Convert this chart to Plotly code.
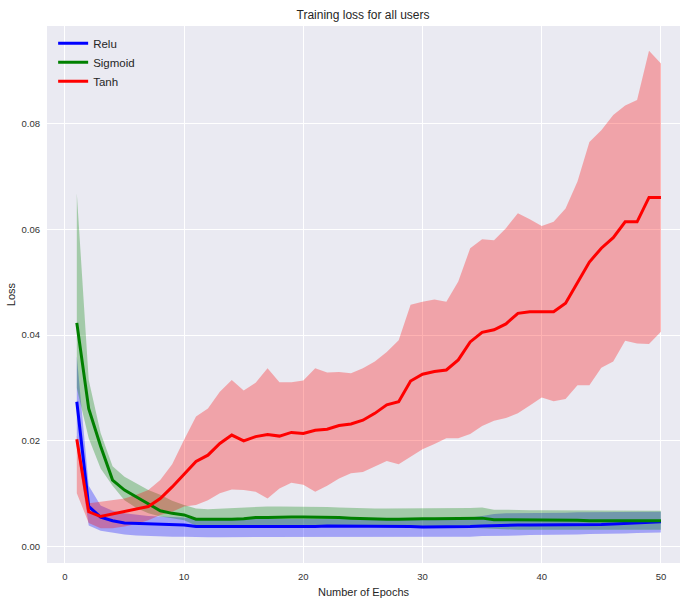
import plotly.graph_objects as go

epochs = list(range(1, 51))

relu_mean = [0.0274, 0.0076, 0.0056, 0.0049, 0.0045, 0.0044, 0.0043, 0.0042, 0.0042, 0.0041,
             0.0038, 0.0038, 0.0037, 0.0038, 0.0038, 0.0038, 0.0038, 0.0038, 0.0038, 0.0038,
             0.0038, 0.0039, 0.0039, 0.0039, 0.0039, 0.0039, 0.0039, 0.0038, 0.0038, 0.0037,
             0.0037, 0.0037, 0.0037, 0.0038, 0.0039, 0.0040, 0.0040, 0.0041, 0.0041, 0.0041,
             0.0041, 0.0041, 0.0041, 0.0041, 0.0042, 0.0043, 0.0044, 0.0045, 0.0046, 0.0047]
relu_upper = [0.0360, 0.0115, 0.0078, 0.0068, 0.0063, 0.0060, 0.0058, 0.0057, 0.0056, 0.0055,
              0.0052, 0.0052, 0.0052, 0.0052, 0.0052, 0.0052, 0.0052, 0.0052, 0.0052, 0.0052,
              0.0052, 0.0053, 0.0053, 0.0053, 0.0053, 0.0053, 0.0053, 0.0052, 0.0052, 0.0052,
              0.0053, 0.0054, 0.0054, 0.0055, 0.0058, 0.0062, 0.0063, 0.0063, 0.0064, 0.0064,
              0.0064, 0.0064, 0.0065, 0.0065, 0.0065, 0.0065, 0.0065, 0.0066, 0.0066, 0.0066]
relu_lower = [0.0190, 0.0040, 0.0030, 0.0026, 0.0023, 0.0021, 0.0020, 0.0019, 0.0019, 0.0019,
              0.0018, 0.0018, 0.0018, 0.0018, 0.0018, 0.0018, 0.0018, 0.0018, 0.0018, 0.0018,
              0.0018, 0.0018, 0.0019, 0.0019, 0.0019, 0.0019, 0.0019, 0.0018, 0.0018, 0.0018,
              0.0018, 0.0019, 0.0019, 0.0019, 0.0020, 0.0020, 0.0021, 0.0021, 0.0022, 0.0022,
              0.0023, 0.0023, 0.0023, 0.0024, 0.0024, 0.0025, 0.0025, 0.0026, 0.0026, 0.0027]

sigmoid_mean = [0.0423, 0.0261, 0.0190, 0.0126, 0.0107, 0.0094, 0.0081, 0.0068, 0.0063, 0.0060,
                0.0052, 0.0052, 0.0051, 0.0052, 0.0053, 0.0055, 0.0055, 0.0056, 0.0056, 0.0056,
                0.0056, 0.0055, 0.0055, 0.0054, 0.0053, 0.0052, 0.0052, 0.0052, 0.0053, 0.0053,
                0.0053, 0.0053, 0.0053, 0.0053, 0.0054, 0.0051, 0.0051, 0.0051, 0.0051, 0.0051,
                0.0051, 0.0050, 0.0050, 0.0049, 0.0049, 0.0048, 0.0048, 0.0048, 0.0048, 0.0049]
sigmoid_upper = [0.0668, 0.0315, 0.0215, 0.0152, 0.0132, 0.0120, 0.0107, 0.0098, 0.0087, 0.0079,
                 0.0072, 0.0071, 0.0072, 0.0073, 0.0075, 0.0076, 0.0076, 0.0076, 0.0076, 0.0076,
                 0.0075, 0.0075, 0.0074, 0.0073, 0.0072, 0.0072, 0.0072, 0.0072, 0.0073, 0.0073,
                 0.0073, 0.0073, 0.0073, 0.0073, 0.0074, 0.0070, 0.0070, 0.0069, 0.0069, 0.0069,
                 0.0069, 0.0069, 0.0068, 0.0068, 0.0068, 0.0068, 0.0068, 0.0068, 0.0068, 0.0068]
sigmoid_lower = [0.0300, 0.0205, 0.0148, 0.0115, 0.0088, 0.0073, 0.0063, 0.0057, 0.0054, 0.0050,
                 0.0040, 0.0040, 0.0039, 0.0040, 0.0040, 0.0040, 0.0040, 0.0040, 0.0040, 0.0040,
                 0.0040, 0.0040, 0.0040, 0.0039, 0.0039, 0.0038, 0.0038, 0.0038, 0.0038, 0.0038,
                 0.0038, 0.0037, 0.0037, 0.0036, 0.0035, 0.0033, 0.0033, 0.0032, 0.0032, 0.0032,
                 0.0032, 0.0032, 0.0032, 0.0032, 0.0032, 0.0032, 0.0032, 0.0032, 0.0032, 0.0032]

tanh_mean = [0.0203, 0.0066, 0.0057, 0.0062, 0.0067, 0.0071, 0.0076, 0.0091, 0.0113, 0.0137,
             0.0161, 0.0173, 0.0195, 0.0211, 0.0200, 0.0208, 0.0212, 0.0209, 0.0216, 0.0214,
             0.0220, 0.0222, 0.0229, 0.0232, 0.0239, 0.0252, 0.0268, 0.0274, 0.0313, 0.0326,
             0.0331, 0.0334, 0.0353, 0.0387, 0.0405, 0.0410, 0.0421, 0.0441, 0.0444, 0.0444,
             0.0444, 0.0460, 0.0498, 0.0538, 0.0564, 0.0584, 0.0614, 0.0614, 0.0660, 0.0660]
tanh_upper = [0.0210, 0.0082, 0.0085, 0.0088, 0.0091, 0.0098, 0.0107, 0.0126, 0.0156, 0.0202,
              0.0246, 0.0261, 0.0293, 0.0315, 0.0295, 0.0310, 0.0337, 0.0311, 0.0311, 0.0314,
              0.0337, 0.0329, 0.0330, 0.0328, 0.0337, 0.0350, 0.0368, 0.0390, 0.0457, 0.0463,
              0.0467, 0.0463, 0.0501, 0.0564, 0.0581, 0.0579, 0.0602, 0.0630, 0.0619, 0.0606,
              0.0614, 0.0639, 0.0690, 0.0765, 0.0787, 0.0816, 0.0834, 0.0844, 0.0937, 0.0913]
tanh_lower = [0.0101, 0.0045, 0.0035, 0.0035, 0.0038, 0.0043, 0.0050, 0.0060, 0.0066, 0.0076,
              0.0079, 0.0088, 0.0101, 0.0108, 0.0107, 0.0104, 0.0091, 0.0110, 0.0121, 0.0117,
              0.0104, 0.0115, 0.0129, 0.0139, 0.0141, 0.0152, 0.0162, 0.0156, 0.0170, 0.0184,
              0.0194, 0.0205, 0.0205, 0.0213, 0.0228, 0.0238, 0.0243, 0.0252, 0.0267, 0.0282,
              0.0275, 0.0279, 0.0305, 0.0305, 0.0338, 0.0350, 0.0389, 0.0384, 0.0383, 0.0406]

series = [
    ("Relu", relu_mean, relu_upper, relu_lower, "rgb(0,0,255)", "rgba(0,0,255,0.3)"),
    ("Sigmoid", sigmoid_mean, sigmoid_upper, sigmoid_lower, "rgb(0,128,0)", "rgba(0,128,0,0.3)"),
    ("Tanh", tanh_mean, tanh_upper, tanh_lower, "rgb(255,0,0)", "rgba(255,0,0,0.3)"),
]

fig = go.Figure()
for name, mean, up, lo, col, fcol in series:
    fig.add_trace(go.Scatter(x=epochs, y=up, mode="lines", line=dict(width=0, color=fcol),
                             showlegend=False, hoverinfo="skip"))
    fig.add_trace(go.Scatter(x=epochs, y=lo, mode="lines", line=dict(width=0, color=fcol),
                             fill="tonexty", fillcolor=fcol, showlegend=False, hoverinfo="skip"))
for name, mean, up, lo, col, fcol in series:
    fig.add_trace(go.Scatter(x=epochs, y=mean, mode="lines", name=name,
                             line=dict(color=col, width=3)))

font_family = "Liberation Sans, Arial, sans-serif"
fig.update_layout(
    width=680, height=600,
    margin=dict(l=47, r=0, t=26, b=37),
    paper_bgcolor="white", plot_bgcolor="#EAEAF2",
    font=dict(family=font_family, color="#262626"),
    title=dict(text="Training loss for all users", x=(363) / 680, xanchor="center",
               y=1 - 15 / 600, yanchor="middle", font=dict(size=12, color="#262626")),
    legend=dict(x=0.0097, y=0.995, xanchor="left", yanchor="top", bgcolor="rgba(0,0,0,0)",
                traceorder="normal", font=dict(size=11.5, color="#262626")),
    xaxis=dict(range=[-1.5, 51.6], tickvals=[0, 10, 20, 30, 40, 50], showgrid=True,
               gridcolor="white", gridwidth=1, zeroline=False, showline=False, ticks="",
               tickfont=dict(size=9.5, color="#333333"), ticklabelstandoff=6,
               title=dict(text="Number of Epochs", font=dict(size=11, color="#262626"), standoff=7)),
    yaxis=dict(range=[-0.00308, 0.0984], tickvals=[0.0, 0.02, 0.04, 0.06, 0.08],
               ticktext=["0.00", "0.02", "0.04", "0.06", "0.08"], showgrid=True,
               gridcolor="white", gridwidth=1, zeroline=False, showline=False, ticks="",
               tickfont=dict(size=9.5, color="#333333"), ticklabelstandoff=6,
               title=dict(text="Loss", font=dict(size=11, color="#262626"), standoff=3)),
)

fig.write_html("out.html")
